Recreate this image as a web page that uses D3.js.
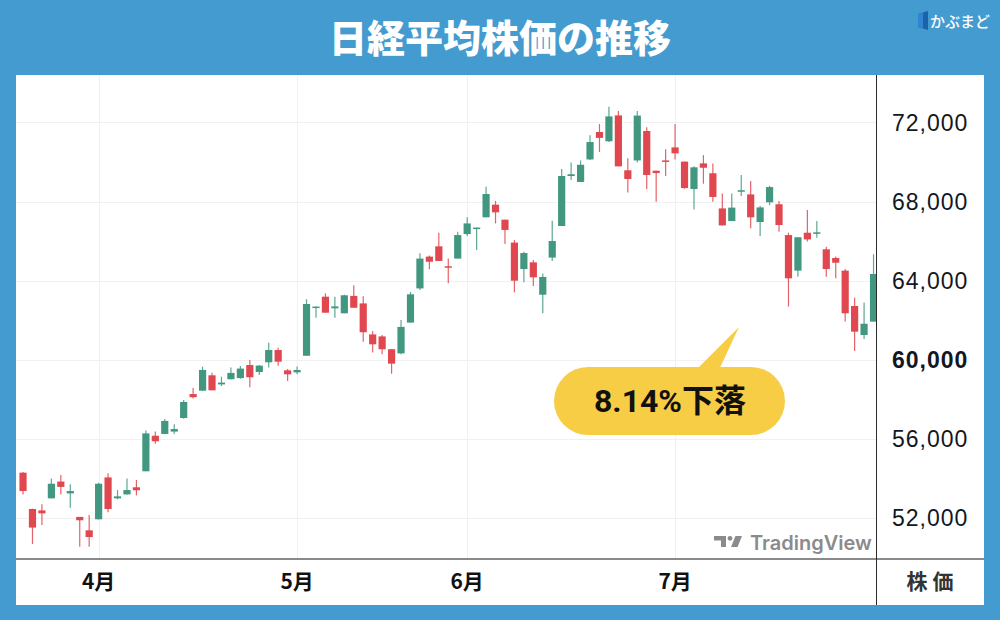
<!DOCTYPE html>
<html lang="ja">
<head>
<meta charset="utf-8">
<script src="https://cdn.jsdelivr.net/npm/d3@7"></script>
<style>
  html, body { margin: 0; padding: 0; background: #449bcf; }
  svg { display: block; }
</style>
</head>
<body>
<svg id="chart" width="1000" height="620"></svg>
<script>
// daily candles, 19 Mar .. 31 Jul
const opens = [54270, 52430, 52360, 52970, 53820, 53220, 52030, 51350, 51910, 54030,
  52970, 53170, 53530, 54340, 56140, 56230, 56350, 57040, 58250, 58420,
  59200, 58740, 59000, 59060, 59720, 59370, 59860, 60480, 59450, 59350,
  60190, 62620, 63180, 62590, 62340, 63220, 62840, 61270, 61170, 60520,
  60310, 61870, 63600, 65210, 65730, 64720, 65110, 66350, 66610, 67200,
  67840, 67080, 65920, 64580, 64920, 63280, 65160, 66760, 69290, 68990,
  70130, 71520, 71050, 72360, 69580, 70080, 71570, 69560, 70080, 70740,
  70020, 68630, 69930, 69430, 67650, 67010, 68510, 68360, 66960, 67960,
  67860, 66300, 64500, 66420, 66390, 65580, 65140, 64500, 62710, 61240, 61920];
const highs = [54300, 52450, 52670, 53980, 54150, 53680, 52030, 52130, 53760, 54240,
  53390, 53980, 53900, 56400, 56350, 56990, 56720, 57950, 58560, 59640,
  59330, 59130, 59590, 59670, 59980, 59720, 60850, 60600, 59520, 59650,
  63050, 62680, 63350, 63180, 63280, 63760, 63200, 61440, 61240, 60520,
  62000, 63420, 65380, 65270, 66420, 65110, 66470, 67200, 66680, 68750,
  68030, 67080, 66050, 65460, 65040, 64360, 67030, 69650, 69970, 70080,
  71350, 71920, 72800, 72580, 70190, 72580, 71760, 69560, 70640, 71920,
  70020, 69780, 70350, 69930, 68410, 68410, 69340, 69040, 67770, 68800,
  68030, 66420, 66190, 67570, 67010, 65710, 65210, 64580, 63130, 62890, 65330];
const lows = [53170, 50660, 51620, 52970, 53170, 52500, 50520, 50520, 51900, 52260,
  52920, 53170, 53120, 54340, 55740, 56230, 56230, 57000, 58030, 58420,
  58440, 58660, 59000, 59030, 58590, 59220, 59590, 59690, 58910, 59250,
  60190, 62120, 62370, 62120, 62340, 62620, 60900, 60350, 60260, 59280,
  60260, 61870, 63520, 64570, 64990, 63860, 65110, 66250, 65540, 67200,
  66890, 65850, 63400, 63910, 63720, 62340, 64990, 66760, 69090, 68990,
  70100, 70510, 71010, 69780, 68450, 69980, 68630, 67990, 69290, 70130,
  68650, 67600, 68900, 67990, 66790, 67010, 68280, 66640, 66250, 67820,
  66470, 62680, 64190, 65970, 66170, 64190, 64110, 61920, 60430, 61040, 61920];
const closes = [53340, 51490, 52210, 53710, 53550, 53340, 51860, 51010, 53710, 52430,
  53070, 53390, 53380, 56260, 55860, 56890, 56480, 57850, 58090, 59470,
  58440, 58830, 59320, 59540, 59100, 59690, 60480, 59890, 59250, 59470,
  62810, 62680, 62370, 62690, 63250, 62620, 61380, 60770, 60520, 59790,
  61650, 63300, 65110, 64950, 64990, 64650, 66300, 66890, 66680, 68380,
  67450, 66560, 63990, 65390, 64160, 64180, 66000, 69290, 69380, 69860,
  71010, 71220, 72310, 69780, 69140, 72350, 69340, 69440, 70030, 70440,
  68680, 69730, 69710, 68230, 66790, 67690, 68570, 67200, 67700, 68730,
  66810, 64110, 66190, 66080, 66440, 64580, 64900, 62340, 61410, 61810, 64330];

// first trading day of each month (candle index)
const monthLabels = ['4月', '5月', '6月', '7月'];
const monthStarts = [8, 29, 47, 69];
const priceTicks = [52000, 56000, 60000, 64000, 68000, 72000];
const boldTick = 60000;

const plot = {left: 16, top: 75, right: 876, bottom: 559};
const panel = {left: 16, top: 75, right: 984, bottom: 605};
const color = {
  bg: '#449bcf', up: '#41977f', down: '#e0474f', grid: '#f1f1f1',
  text: '#131722', callout: '#f8cd46', mark: '#8b8b8b'
};
const jp = "'Noto Sans CJK JP', sans-serif";

const svg = d3.select('#chart');

svg.append('rect').attr('width', 1000).attr('height', 620).attr('fill', color.bg);

// title
svg.append('text')
    .text('日経平均株価の推移')
    .attr('x', 500).attr('y', 52)
    .attr('text-anchor', 'middle')
    .attr('fill', '#fff')
    .style('font-family', jp).style('font-weight', 900).style('font-size', '38px');

// site logo
let logo = svg.append('g');
logo.append('path').attr('d', 'M918 14 L928 11 L928 30 L918 27 Z').attr('fill', '#1c62a8');
logo.append('path').attr('d', 'M918 14 L923 12.5 L923 28.5 L918 27 Z').attr('fill', '#2f86d0');
logo.append('text')
    .text('かぶまど')
    .attr('x', 930).attr('y', 27)
    .attr('fill', '#fff')
    .style('font-family', jp).style('font-weight', 500).style('font-size', '15px');

// white panel
svg.append('rect')
    .attr('x', panel.left).attr('y', panel.top)
    .attr('width', panel.right - panel.left).attr('height', panel.bottom - panel.top)
    .attr('fill', '#fff');

const idx = d3.range(opens.length);
const x = d3.scaleBand()
    .domain(idx)
    .range([18.3, 878.25])
    .paddingInner(0.24)
    .paddingOuter(0.12);
const y = d3.scaleLinear().domain([49899, 74405]).range([plot.bottom, plot.top]);
const cx = i => x(i) + x.bandwidth() / 2;

svg.append('clipPath').attr('id', 'plotClip')
  .append('rect')
    .attr('x', plot.left).attr('y', plot.top)
    .attr('width', plot.right - plot.left).attr('height', plot.bottom - plot.top);

// grid
let grid = svg.append('g').attr('clip-path', 'url(#plotClip)');
grid.selectAll('line.h')
    .data(priceTicks)
    .enter()
    .append('line')
    .attr('class', 'h')
    .attr('x1', plot.left).attr('x2', plot.right)
    .attr('y1', d => Math.round(y(d)) + .5).attr('y2', d => Math.round(y(d)) + .5)
    .attr('stroke', color.grid);
grid.selectAll('line.v')
    .data(monthStarts)
    .enter()
    .append('line')
    .attr('class', 'v')
    .attr('x1', d => Math.round(cx(d)) + .5).attr('x2', d => Math.round(cx(d)) + .5)
    .attr('y1', plot.top).attr('y2', plot.bottom)
    .attr('stroke', color.grid);

// candles
let candles = svg.append('g').attr('clip-path', 'url(#plotClip)')
  .selectAll('g')
    .data(idx)
    .enter()
    .append('g');

const fillOf = i => closes[i] >= opens[i] ? color.up : color.down;

candles.append('line')
    .attr('x1', i => cx(i)).attr('x2', i => cx(i))
    .attr('y1', i => y(highs[i])).attr('y2', i => y(lows[i]))
    .attr('stroke', fillOf)
    .attr('stroke-opacity', .85)
    .attr('stroke-width', 1.2);

candles.append('rect')
    .attr('x', i => x(i))
    .attr('width', x.bandwidth())
    .attr('y', i => y(Math.max(opens[i], closes[i])))
    .attr('height', i => Math.max(1.5, Math.abs(y(opens[i]) - y(closes[i]))))
    .attr('fill', fillOf);

// price axis
let axis = svg.append('g')
    .attr('transform', `translate(${plot.right},0)`)
    .call(d3.axisRight(y)
        .tickValues(priceTicks)
        .tickSize(0)
        .tickPadding(16)
        .tickFormat(d3.format(',')));
axis.select('.domain').remove();
axis.selectAll('text')
    .attr('fill', color.text)
    .attr('dy', '0.36em')
    .style('font-family', "'Liberation Sans', Arial, sans-serif")
    .style('font-size', '23px')
    .style('letter-spacing', '1px')
    .style('font-weight', d => d === boldTick ? 700 : 400);

// frame lines
svg.append('line')
    .attr('x1', panel.left).attr('x2', panel.right)
    .attr('y1', plot.bottom).attr('y2', plot.bottom)
    .attr('stroke', '#8a8a8a').attr('stroke-width', 2);
svg.append('line')
    .attr('x1', plot.right + .5).attr('x2', plot.right + .5)
    .attr('y1', panel.top).attr('y2', panel.bottom)
    .attr('stroke', '#2b2b2b');

// month labels
svg.append('g').selectAll('text')
    .data(monthStarts)
    .enter()
    .append('text')
    .text((d, i) => monthLabels[i])
    .attr('x', d => cx(d))
    .attr('y', 589)
    .attr('text-anchor', 'middle')
    .attr('fill', '#111')
    .style('font-family', jp).style('font-weight', 700).style('font-size', '21px');

svg.append('text')
    .text('株 価')
    .attr('x', 930).attr('y', 589)
    .attr('text-anchor', 'middle')
    .attr('fill', '#333')
    .style('font-family', jp).style('font-weight', 700).style('font-size', '21px');

// TradingView watermark
let tv = svg.append('g').attr('fill', color.mark);
tv.append('path').attr('d', 'M714 536 H726 V547 H721 V540.5 H714 Z');
tv.append('circle').attr('cx', 730).attr('cy', 538.3).attr('r', 2.4);
tv.append('path').attr('d', 'M735.5 536 H742 L737.5 547 H731 Z');
tv.append('text')
    .text('TradingView')
    .attr('x', 750).attr('y', 549.5)
    .style('font-family', "Inter, 'Open Sans', sans-serif")
    .style('font-weight', 600).style('font-size', '20px');

// callout
let callout = svg.append('g');
callout.append('path')
    .attr('d', 'M694 372 L739 327 L718 372 Z')
    .attr('fill', color.callout);
callout.append('rect')
    .attr('x', 554).attr('y', 367)
    .attr('width', 231).attr('height', 68)
    .attr('rx', 34)
    .attr('fill', color.callout);
callout.append('text')
    .text('8.14%下落')
    .attr('x', 670).attr('y', 412)
    .attr('text-anchor', 'middle')
    .attr('fill', '#111')
    .style('font-family', "Roboto, 'Noto Sans CJK JP', sans-serif")
    .style('font-weight', 700).style('font-size', '32px');
</script>
</body>
</html>
